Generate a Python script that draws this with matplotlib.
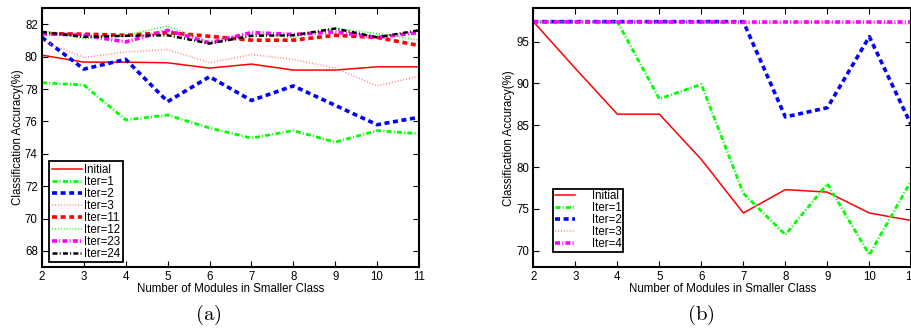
import matplotlib
matplotlib.use('Agg')
import matplotlib.pyplot as plt
import numpy as np

plt.rcParams['font.family'] = ['Liberation Sans', 'DejaVu Sans']
plt.rcParams['mathtext.fontset'] = 'cm'
plt.rcParams['lines.scale_dashes'] = False

modules = [2, 3, 4, 5, 6, 7, 8, 9, 10, 11]

# panel (a)
a_initial = [80.1, 79.67, 79.67, 79.63, 79.3, 79.55, 79.18, 79.18, 79.38, 79.38]
a_iter1 = [78.4, 78.25, 76.1, 76.4, 75.6, 74.97, 75.44, 74.72, 75.44, 75.24]
a_iter2 = [81.2, 79.24, 79.84, 77.23, 78.77, 77.3, 78.2, 77.0, 75.8, 76.26]
a_iter3 = [81.0, 79.96, 80.3, 80.45, 79.63, 80.14, 79.84, 79.3, 78.2, 78.8]
a_iter11 = [81.44, 81.4, 81.33, 81.5, 81.27, 81.03, 81.03, 81.33, 81.2, 80.7]
a_iter12 = [81.6, 81.13, 81.33, 81.9, 80.9, 81.44, 81.2, 81.75, 81.44, 81.03]
a_iter23 = [81.44, 81.33, 80.92, 81.64, 80.86, 81.5, 81.38, 81.54, 81.2, 81.5]
a_iter24 = [81.54, 81.23, 81.3, 81.33, 80.82, 81.3, 81.33, 81.75, 81.2, 81.64]

# panel (b)
b_initial = [97.4, 91.8, 86.33, 86.33, 80.9, 74.5, 77.3, 77.0, 74.5, 73.6]
b_iter1 = [97.4, 97.4, 97.4, 88.15, 89.9, 76.85, 71.9, 78.0, 69.5, 78.4]
b_iter2 = [97.4, 97.4, 97.4, 97.4, 97.4, 97.4, 86.0, 87.1, 95.6, 85.0]
b_iter3 = [97.4, 97.4, 97.4, 97.4, 97.4, 97.1, 97.3, 97.3, 97.3, 97.1]
b_iter4 = [97.4, 97.4, 97.4, 97.4, 97.4, 97.4, 97.4, 97.4, 97.4, 97.4]

# matlab-like dash patterns (points)
dash = (0, (3.6, 2.6))
dashdot = (0, (3.6, 1.6, 0.7, 1.6))
dot = (0, (0.7, 1.4))

fs = 8.3

f = plt.figure(figsize=(9.12, 3.29), dpi=100)
ax1 = f.add_axes([0.046, 0.1884, 0.4134, 0.7864])
ax2 = f.add_axes([0.5848, 0.1875, 0.4145, 0.7873])

ax1.plot(modules, a_initial, color='#ff0000', linestyle='-', linewidth=1.1, label='Initial')
ax1.plot(modules, a_iter1, color='#00ff00', linestyle=dashdot, linewidth=2.0, label='Iter=1')
ax1.plot(modules, a_iter2, color='#0000ff', linestyle=dash, linewidth=2.6, label='Iter=2')
ax1.plot(modules, a_iter3, color='#ff8080', linestyle=dot, linewidth=1.1, label='Iter=3')
ax1.plot(modules, a_iter11, color='#ff0000', linestyle=dash, linewidth=2.6, label='Iter=11')
ax1.plot(modules, a_iter12, color='#00ff00', linestyle=dot, linewidth=1.1, label='Iter=12')
ax1.plot(modules, a_iter23, color='#ff00ff', linestyle=dashdot, linewidth=2.6, label='Iter=23')
ax1.plot(modules, a_iter24, color='#000000', linestyle=dashdot, linewidth=1.8, label='Iter=24')
ax1.set_xlim(2, 11)
ax1.set_ylim(67, 83)
ax1.set_xticks(modules)
ax1.set_yticks([68, 70, 72, 74, 76, 78, 80, 82])

ax2.plot(modules, b_initial, color='#ff0000', linestyle='-', linewidth=1.1, label='Initial')
ax2.plot(modules, b_iter1, color='#00ff00', linestyle=dashdot, linewidth=2.0, label='Iter=1')
ax2.plot(modules, b_iter2, color='#0000ff', linestyle=dash, linewidth=2.6, label='Iter=2')
ax2.plot(modules, b_iter3, color='#ff8080', linestyle=dot, linewidth=1.1, label='Iter=3')
ax2.plot(modules, b_iter4, color='#ff00ff', linestyle=dashdot, linewidth=2.6, label='Iter=4')
ax2.set_xlim(2, 11)
ax2.set_ylim(68, 99)
ax2.set_xticks(modules)
ax2.set_yticks([70, 75, 80, 85, 90, 95])

for ax in [ax1, ax2]:
    ax.tick_params(direction='in', top=True, right=True, labelsize=fs, length=4, width=0.8, pad=3)
    for s in ax.spines.values():
        s.set_linewidth(1.5)
    ax.set_xlabel('Number of Modules in Smaller Class', fontsize=fs, labelpad=0)
    ax.set_ylabel('Classification Accuracy(%)', fontsize=fs, labelpad=1)

leg1 = ax1.legend(loc='lower left', bbox_to_anchor=(0.02, 0.02), borderaxespad=0, fontsize=fs,
                  labelspacing=0.0, handlelength=2.6, handletextpad=0.2, borderpad=0.2,
                  fancybox=False, framealpha=1)
leg1.get_frame().set_edgecolor('black')
leg1.get_frame().set_linewidth(1.3)

leg2 = ax2.legend(loc='lower left', bbox_to_anchor=(0.052, 0.059), borderaxespad=0, fontsize=fs,
                  labelspacing=0.0, handlelength=1.8, handletextpad=1.4, borderpad=0.15,
                  fancybox=False, framealpha=1)
leg2.get_frame().set_edgecolor('black')
leg2.get_frame().set_linewidth(1.3)

f.text(208 / 912, 1 - 315 / 329, r'$\mathrm{(a)}$', fontsize=15, ha='center', va='center')
f.text(701 / 912, 1 - 315 / 329, r'$\mathrm{(b)}$', fontsize=15, ha='center', va='center')

plt.savefig('out.png', dpi=100)
